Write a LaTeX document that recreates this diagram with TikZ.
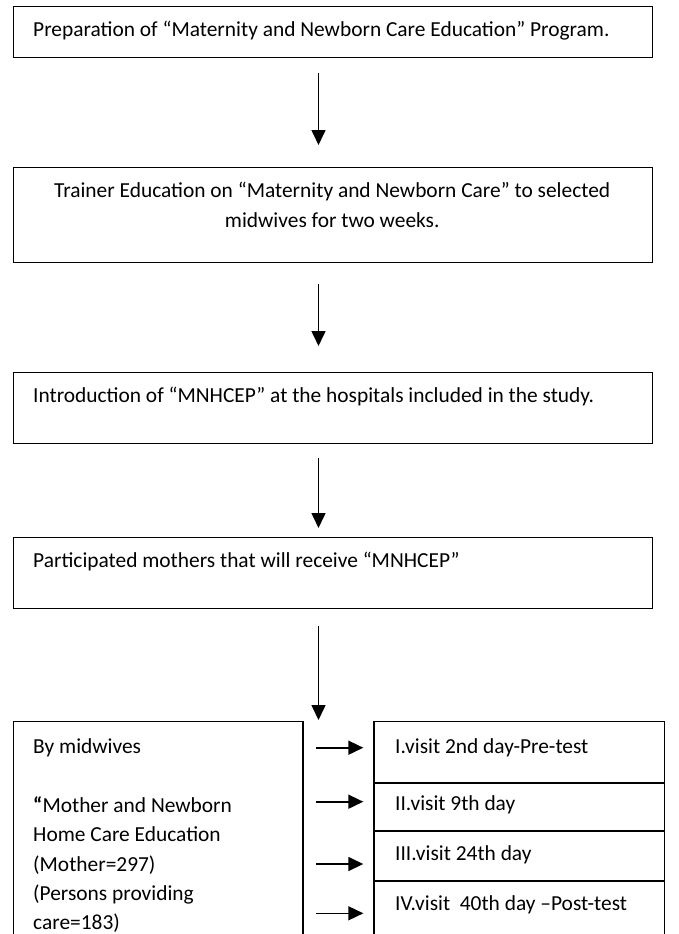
\documentclass[tikz,border=0pt]{standalone}
\usepackage{fontspec}
\setmainfont{Carlito}
\usetikzlibrary{arrows.meta}
\begin{document}
\begin{tikzpicture}[x=1pt,y=-1pt,
  box/.style={draw, line width=1.3pt, inner sep=0pt, anchor=north west},
  txt/.style={inner sep=0pt, anchor=base west, font=\fontsize{21.4}{29.3}\selectfont},
  arr/.style={line width=1.6pt, -{Triangle[length=15pt,width=14pt]}}]
\useasboundingbox (0,0) rectangle (678,934);
\clip (0,0) rectangle (678,934);
% boxes
\node[box, minimum width=639pt, minimum height=51pt] (b1) at (12.7,6) {};
\node[box, minimum width=639pt, minimum height=95pt] (b2) at (12.7,167) {};
\node[box, minimum width=639pt, minimum height=71pt] (b3) at (12.7,372) {};
\node[box, minimum width=639pt, minimum height=71pt] (b4) at (12.7,537) {};
\node[box, minimum width=289.6pt, minimum height=250pt] (lb) at (12.7,721) {};
\node[box, minimum width=290.4pt, minimum height=61pt] (r1) at (373.3,721) {};
\node[box, minimum width=290.4pt, minimum height=47.5pt] (r2) at (373.3,782.5) {};
\node[box, minimum width=290.4pt, minimum height=49.5pt] (r3) at (373.3,830.5) {};
\node[box, minimum width=290.4pt, minimum height=90pt] (r4) at (373.3,880.5) {};
% texts
\node[txt] (t1) at (33,37) {Preparation of “Maternity and Newborn Care Education” Program.};
\node[txt, anchor=base, align=center] (t2) at (332.2,227) {Trainer Education on “Maternity and Newborn Care” to selected\\midwives for two weeks.};
\node[txt] (t3) at (33,402.7) {Introduction of “MNHCEP” at the hospitals included in the study.};
\node[txt] (t4) at (33,567.5) {Participated mothers that will receive “MNHCEP”};
\node[txt, align=left] (lt) at (33,929.7) {By midwives\\\mbox{}\\\textbf{“}Mother and Newborn\\Home Care Education\\(Mother=297)\\(Persons providing\\care=183)};
\node[txt] (rt1) at (395,753.3) {I.visit 2nd day-Pre-test};
\node[txt] (rt2) at (395,810) {II.visit 9th day};
\node[txt] (rt3) at (395,860) {III.visit 24th day};
\node[txt] (rt4) at (395,910) {IV.visit\ \ 40th day –Post-test};
% vertical arrows
\coordinate (ax) at (318.5,0);
\draw[arr, shorten <=15pt, shorten >=22pt] (b1.south -| ax) -- (b2.north -| ax);
\draw[arr, shorten <=21pt, shorten >=26pt] (b2.south -| ax) -- (b3.north -| ax);
\draw[arr, shorten <=14pt, shorten >=9pt] (b3.south -| ax) -- (b4.north -| ax);
\draw[arr, shorten <=17pt, shorten >=1pt] (b4.south -| ax) -- (lb.north -| ax);
% horizontal arrows
\coordinate (h1) at (0,747.7);
\coordinate (h2) at (0,801.7);
\coordinate (h3) at (0,864);
\coordinate (h4) at (0,913.3);
\draw[arr, shorten <=12.7pt, shorten >=10pt] (lb.east |- h1) -- (r1.west |- h1);
\draw[arr, shorten <=12.7pt, shorten >=10pt] (lb.east |- h2) -- (r2.west |- h2);
\draw[arr, shorten <=12.7pt, shorten >=10pt] (lb.east |- h3) -- (r3.west |- h3);
\draw[arr, shorten <=12.7pt, shorten >=10pt] (lb.east |- h4) -- (r4.west |- h4);
\end{tikzpicture}
\end{document}
